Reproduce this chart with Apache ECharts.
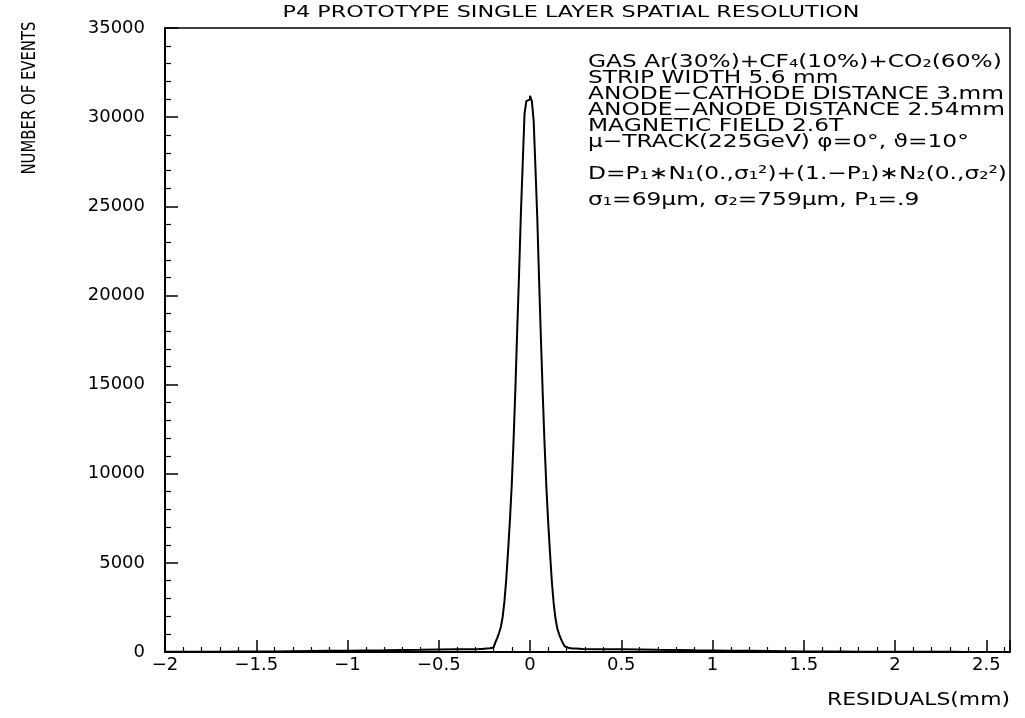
<!DOCTYPE html>
<html>
<head>
<meta charset="utf-8">
<script src="https://cdn.jsdelivr.net/npm/echarts@6/dist/echarts.min.js"></script>
<style>
html,body{margin:0;padding:0;background:#fff;}
#chart{width:1025px;height:718px;}
</style>
</head>
<body>
<div id="chart"></div>
<script>
// ---- data ----
const chartTitle = 'P4 PROTOTYPE SINGLE LAYER SPATIAL RESOLUTION';
const yAxisTitle = 'NUMBER OF EVENTS';
const xAxisTitle = 'RESIDUALS(mm)';
const notes = [
  'GAS Ar(30%)+CF\u2084(10%)+CO\u2082(60%)',
  'STRIP WIDTH 5.6 mm',
  'ANODE\u2212CATHODE DISTANCE 3.mm',
  'ANODE\u2212ANODE DISTANCE 2.54mm',
  'MAGNETIC FIELD 2.6T',
  '\u03bc\u2212TRACK(225GeV) \u03c6=0\u00b0, \u03d1=10\u00b0',
  'D=P\u2081\u2217N\u2081(0.,\u03c3\u2081\u00b2)+(1.\u2212P\u2081)\u2217N\u2082(0.,\u03c3\u2082\u00b2)',
  '\u03c3\u2081=69\u03bcm, \u03c3\u2082=759\u03bcm, P\u2081=.9'
];
const xTicks = [-2, -1.5, -1, -0.5, 0, 0.5, 1, 1.5, 2, 2.5];
const yTicks = [0, 5000, 10000, 15000, 20000, 25000, 30000, 35000];

// left tail: 0.1 mm bins from -2.0 to -0.3
const leftTailStart = -2.0;
const tailBinWidth = 0.1;
const leftTailCounts = [10, 15, 20, 25, 30, 35, 45, 55, 65, 75, 90, 100, 115, 125, 140, 150, 160];
// core: 0.01 mm bins from -0.3 to 0.3
const coreStart = -0.3;
const coreBinWidth = 0.01;
const coreCounts = [
  160, 165, 170, 175, 180, 190, 195, 205, 215, 250,
  340, 540, 780, 1050, 1400, 1950, 2850, 4100, 5700, 7400,
  9400, 11900, 14800, 18100, 21200, 24600, 27400, 30200, 30900, 31000,
  31200, 30900, 29800, 27100, 24300, 20800, 17500, 14400, 11600, 9200,
  7200, 5500, 3900, 2700, 1850, 1300, 980, 720, 500, 320,
  240, 210, 200, 195, 190, 185, 180, 175, 170, 165
];
// right tail: 0.1 mm bins from 0.3 to 2.6
const rightTailStart = 0.3;
const rightTailCounts = [160, 150, 140, 125, 115, 100, 90, 75, 65, 55, 45, 35, 30, 25, 20, 15, 15, 10, 10, 8, 6, 5, 5];

// ---- build histogram outline (left edge, count) ----
const pts = [];
function addBins(start, w, counts) {
  counts.forEach((c, i) => pts.push([+(start + i * w).toFixed(4), c]));
  return +(start + counts.length * w).toFixed(4);
}
addBins(leftTailStart, tailBinWidth, leftTailCounts);
addBins(coreStart, coreBinWidth, coreCounts);
const lastEdge = addBins(rightTailStart, tailBinWidth, rightTailCounts);
pts.push([lastEdge, rightTailCounts[rightTailCounts.length - 1]]);

// ---- text fitting helper ----
const mctx = document.createElement('canvas').getContext('2d');
function widthOf(text, font) { mctx.font = font; return mctx.measureText(text).width; }

const FONT = 'DejaVu Sans';
const titleFont = '16px ' + FONT;
const titleScale = 577 / widthOf(chartTitle, titleFont);
const yNameFont = '19px ' + FONT;
const yNameScale = 153 / widthOf(yAxisTitle, yNameFont);
const xNameFont = '17px ' + FONT;
const xNameScale = 183 / widthOf(xAxisTitle, xNameFont);
const noteFont = '18px ' + FONT;
const noteScale = 416 / widthOf(notes[2], noteFont);
const noteY = [62, 78, 94, 110, 126, 142, 174, 200];

const graphics = [
  { type: 'text', x: 571, y: 13, scaleX: titleScale,
    style: { text: chartTitle, font: titleFont, fill: '#000', align: 'center', verticalAlign: 'middle', textAlign: 'center', textVerticalAlign: 'middle' } },
  { type: 'text', x: 30, y: 98, rotation: Math.PI / 2, scaleX: yNameScale,
    style: { text: yAxisTitle, font: yNameFont, fill: '#000', align: 'center', verticalAlign: 'middle', textAlign: 'center', textVerticalAlign: 'middle' } },
  { type: 'text', x: 827, y: 701, scaleX: xNameScale,
    style: { text: xAxisTitle, font: xNameFont, fill: '#000', align: 'left', verticalAlign: 'middle', textAlign: 'left', textVerticalAlign: 'middle' } }
];
notes.forEach((t, i) => graphics.push({
  type: 'text', x: 588, y: noteY[i], scaleX: noteScale,
  style: { text: t, font: noteFont, fill: '#000', align: 'left', verticalAlign: 'middle', textAlign: 'left', textVerticalAlign: 'middle' }
}));

const chart = echarts.init(document.getElementById('chart'));
chart.setOption({
  animation: false,
  backgroundColor: '#fff',
  grid: { left: 165, right: 15, top: 28, bottom: 66, show: true, borderColor: '#000', borderWidth: 1.5, backgroundColor: 'transparent' },
  xAxis: {
    type: 'value', min: xTicks[0], max: 2.63, interval: 0.5,
    axisLine: { show: true, onZero: false, lineStyle: { color: '#000', width: 2 } },
    axisTick: { show: true, inside: true, length: 12, lineStyle: { color: '#000', width: 1.5 } },
    minorTick: { show: true, splitNumber: 5, length: 5, lineStyle: { color: '#000', width: 1.2 } },
    splitLine: { show: false },
    axisLabel: {
      show: true, showMaxLabel: false, margin: 4, color: '#000', fontFamily: FONT, fontSize: 18,
      formatter: v => xTicks.includes(v) ? ((v < 0 ? '\u2212' : '') + Math.abs(v)) : ''
    }
  },
  yAxis: {
    type: 'value', min: yTicks[0], max: yTicks[yTicks.length - 1], interval: 5000,
    axisLine: { show: true, onZero: false, lineStyle: { color: '#000', width: 2 } },
    axisTick: { show: true, inside: true, length: 13, lineStyle: { color: '#000', width: 1.5 } },
    minorTick: { show: true, splitNumber: 5, length: 6, lineStyle: { color: '#000', width: 1.2 } },
    splitLine: { show: false },
    axisLabel: { margin: 20, color: '#000', fontFamily: FONT, fontSize: 18, formatter: v => String(v) }
  },
  series: [{
    type: 'line', step: 'end', symbol: 'none', data: pts,
    lineStyle: { color: '#000', width: 2 }
  }],
  graphic: graphics
});
</script>
</body>
</html>
